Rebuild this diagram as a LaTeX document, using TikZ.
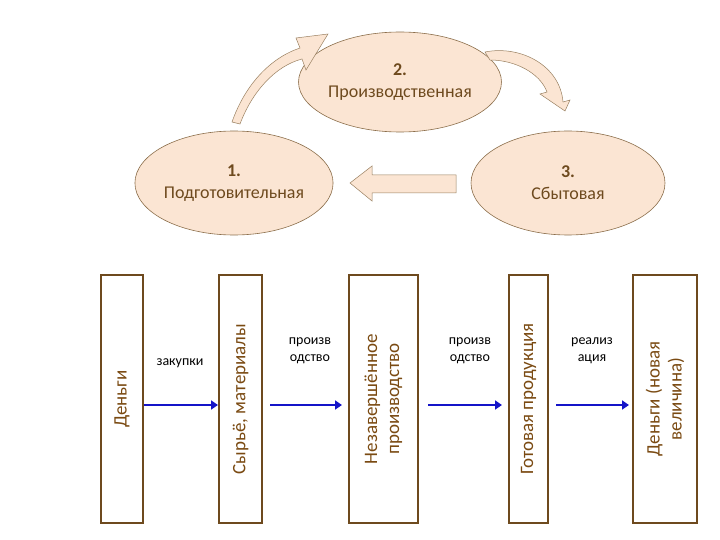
\documentclass[tikz,border=0pt]{standalone}
\usepackage{fontspec}
\setmainfont{Carlito}
\usetikzlibrary{shapes.geometric,arrows.meta}
\definecolor{pe}{HTML}{FBE5D3}
\definecolor{br}{HTML}{6E4A1E}
\definecolor{bt}{HTML}{7A4A12}
\begin{document}
\begin{tikzpicture}[x=1pt,y=-1pt,
 ell/.style={ellipse,draw=br!80,fill=pe,line width=0.6pt,font=\fontsize{18}{22}\selectfont,text=br,align=center,minimum width=#1,minimum height=104pt,inner sep=0pt},
 boxv/.style={draw=br,line width=2pt,minimum height=248pt},
 vt/.style={rotate=90,font=\fontsize{19}{22}\selectfont,text=bt,align=center},
 lab/.style={font=\fontsize{14}{17}\selectfont,align=center},
 flow/.style={draw={rgb,255:red,20;green,20;blue,200},line width=2.5pt,-{Triangle[length=7pt,width=9pt]}},
 shp/.style={draw=br!70,fill=pe,line width=0.5pt}]
\useasboundingbox (0,0) rectangle (720,540);
\node[ell=196pt] (e1) at (234,183) {\textbf{1.}\\Подготовительная};
\node[ell=178pt,minimum height=100pt] (e2) at (400,82) {\textbf{2.}\\Производственная};
\node[ell=194pt] (e3) at (568,183) {\textbf{3.}\\Сбытовая};
\path[shp] (350,183) -- (372,166) -- (372,175) -- (456,175) -- (456,193) -- (372,193) -- (372,201) -- cycle;
\path[shp] (232,122) .. controls (245,85) and (270,58) .. (300,48) -- (296,38) -- (328,34) -- (306,70) -- (302,59) .. controls (275,66) and (252,92) .. (240,124) -- cycle;
\path[shp] (485,52) .. controls (520,45) and (560,65) .. (563,102) -- (570,100) -- (565,111) -- (540,94) -- (547,92) .. controls (540,73) and (515,60) .. (490,60) -- cycle;
\node[boxv,minimum width=42pt] (b1) at (122,399) {};
\node[vt] at (b1) {Деньги};
\node[boxv,minimum width=43pt] (b2) at (240.5,399) {};
\node[vt] at (b2) {Сырьё, материалы};
\node[boxv,minimum width=69pt] (b3) at (383.5,399) {};
\node[vt] at (b3) {Незавершённое\\производство};
\node[boxv,minimum width=39pt] (b4) at (528.5,399) {};
\node[vt] at (b4) {Готовая продукция};
\node[boxv,minimum width=64pt] (b5) at (665,399) {};
\node[vt] at (b5) {Деньги (новая\\величина)};
\draw[flow] (b1.east |- 0,405) -- (b2.west |- 0,405);
\draw[flow] ([xshift=7pt]b2.east |- 0,405) -- ([xshift=-6pt]b3.west |- 0,405);
\draw[flow] ([xshift=9pt]b3.east |- 0,405) -- ([xshift=-6pt]b4.west |- 0,405);
\draw[flow] ([xshift=7pt]b4.east |- 0,405) -- ([xshift=-3pt]b5.west |- 0,405);
\node[lab] (l1) at (180,363) {закупки};
\node[lab] (l2) at (310,351) {произв\\одство};
\node[lab] (l3) at (470,351) {произв\\одство};
\node[lab] (l4) at (592,351) {реализ\\ация};
\end{tikzpicture}
\end{document}
